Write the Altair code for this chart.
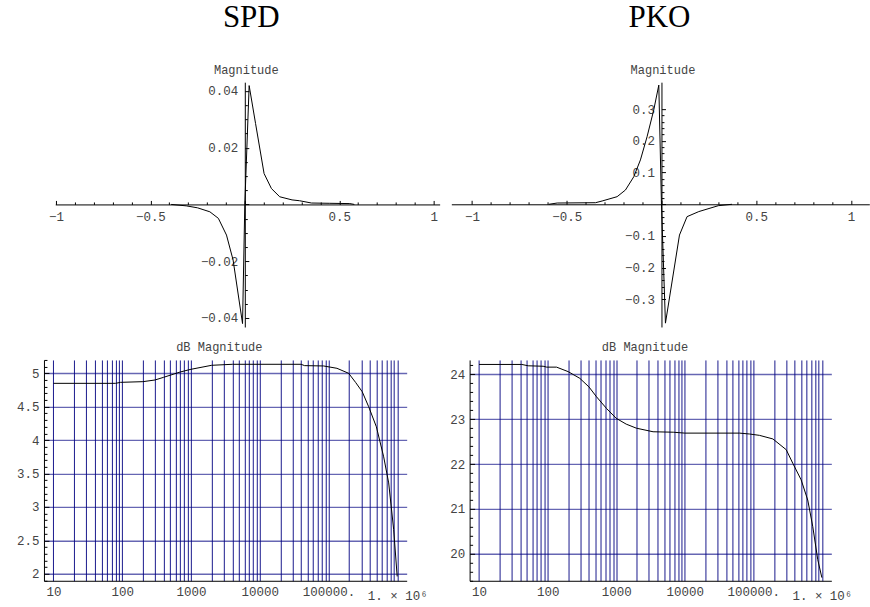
import altair as alt
import pandas as pd

# ---------------- data ----------------
# Top-left: SPD magnitude
spd_x = [-0.39, -0.31, -0.25, -0.185, -0.14, -0.097, -0.062, -0.012, 0.0,
         0.023, 0.057, 0.102, 0.141, 0.185, 0.25, 0.29, 0.353, 0.45, 0.556, 0.58]
spd_y = [0.0, -0.0005, -0.0012, -0.0026, -0.0049, -0.0108, -0.0196, -0.042, 0.0,
         0.0419, 0.0285, 0.0109, 0.0056, 0.0027, 0.0016, 0.0013, 0.0005, 0.0004, 0.0003, 0.0]

# Top-right: PKO magnitude
pko_x = [-0.594, -0.55, -0.348, -0.313, -0.234, -0.19, -0.146, -0.111, -0.076, -0.041,
         -0.014, 0.0, 0.021, 0.095, 0.135, 0.197, 0.30, 0.372]
pko_y = [0.0, 0.004, 0.005, 0.0104, 0.024, 0.045, 0.087, 0.14, 0.213, 0.297,
         0.376, 0.0, -0.375, -0.097, -0.039, -0.023, -0.0044, 0.0]

# Bottom-left: SPD dB magnitude vs frequency
spd_f = [10, 80, 95, 200, 300, 400, 700, 1000, 2000, 4000, 40000, 45000, 85000,
         133000, 197000, 250000, 310000, 385000, 498000, 636000, 752000, 889000, 1000000]
spd_db = [4.85, 4.85, 4.865, 4.875, 4.90, 4.94, 5.02, 5.06, 5.12, 5.135, 5.135, 5.115, 5.11,
          5.075, 5.0, 4.86, 4.725, 4.5, 4.2, 3.75, 3.36, 2.66, 1.96]

# Bottom-right: PKO dB magnitude vs frequency
pko_f = [10, 42, 52, 86, 97, 135, 199, 295, 400, 516, 722, 1000, 1400, 1970, 3450, 6800,
         10000, 63000, 88000, 123000, 193000, 302000, 376000, 498000, 622000, 736000,
         871000, 1000000]
pko_db = [24.22, 24.22, 24.19, 24.18, 24.16, 24.16, 24.06, 23.91, 23.72, 23.5, 23.24, 23.02,
          22.89, 22.8, 22.72, 22.71, 22.69, 22.69, 22.67, 22.64, 22.56, 22.32, 22.02, 21.65,
          21.2, 20.61, 19.87, 19.47]

# tick labels
top_x_labels = [-1, -0.5, 0.5, 1]
spd_y_labels = [-0.04, -0.02, 0.02, 0.04]
pko_y_labels = [-0.3, -0.2, -0.1, 0.1, 0.2, 0.3]
spd_db_labels = [2, 2.5, 3, 3.5, 4, 4.5, 5]
pko_db_labels = [20, 21, 22, 23, 24]
freq_label_values = [10, 100, 1000, 10000, 100000, 1000000]
freq_label_texts = ["10", "100", "1000", "10000", "100000.", "1. \u00d7 10\u2076"]

NAVY = "#000080"
LABEL_COLOR = "#444444"


def steps(lo, hi, step):
    n0 = int(round(lo / step))
    n1 = int(round(hi / step))
    return [round(k * step, 6) for k in range(n0, n1 + 1)]


def major_cond(step, big, small):
    return {"condition": {"test": f"abs(datum.value/{step} - round(datum.value/{step})) < 1e-6",
                          "value": big}, "value": small}


def top_panel(x, y, title_text, title_dx, xdom, xrng, ydom, width, height,
              ylabels, yminor_step, ymajor_step):
    df = pd.DataFrame({"x": x, "y": y})
    xs = alt.Scale(domain=xdom, range=xrng, nice=False, zero=False)
    ys = alt.Scale(domain=ydom, nice=False, zero=False)
    x0 = xrng[0] + (0 - xdom[0]) / (xdom[1] - xdom[0]) * (xrng[1] - xrng[0])
    y0 = height * (ydom[1] - 0) / (ydom[1] - ydom[0])

    x_lab = alt.Axis(orient="bottom", offset=-(height - y0), values=top_x_labels, format="~g",
                     ticks=False, grid=False, domain=True, labelPadding=6, title=None,
                     labelFlush=False, labelOverlap=False)
    y_lab = alt.Axis(orient="left", offset=-x0, values=ylabels, format="~g", ticks=False,
                     grid=False, domain=True, labelPadding=7, title="Magnitude", titleAngle=0,
                     titleX=1, titleY=-9, titleAlign="center", titleBaseline="alphabetic",
                     labelFlush=False, labelOverlap=False)
    x_tk = alt.Axis(orient="top", offset=-y0, values=steps(-1, 1, 0.1), labels=False,
                    domain=False, grid=False, ticks=True, tickSize=major_cond(0.5, 4, 2.5),
                    title=None)
    y_tk = alt.Axis(orient="right", offset=-(width - x0),
                    values=steps(ylabels[0], ylabels[-1], yminor_step), labels=False,
                    domain=False, grid=False, ticks=True,
                    tickSize=major_cond(ymajor_step, 4, 2.5), title=None)

    line = alt.Chart(df).mark_line(color="black", strokeWidth=1).encode(
        x=alt.X("x:Q", scale=xs, axis=x_lab),
        y=alt.Y("y:Q", scale=ys, axis=y_lab),
    )
    tk = alt.Chart(df).mark_point(opacity=0).encode(
        x=alt.X("x:Q", scale=xs, axis=x_tk),
        y=alt.Y("y:Q", scale=ys, axis=y_tk),
    )
    return alt.layer(line, tk, title=alt.TitleParams(
        text=title_text, frame="group", anchor="middle", dx=title_dx, offset=5,
        baseline="alphabetic")).resolve_axis(x="independent", y="independent").properties(
        width=width, height=height)


grid_vals = [d * 10 ** k for k in range(1, 6) for d in range(1, 10)] + [1000000]
label_expr = " : ".join(f"datum.value == {v} ? '{t}'" for v, t in
                        zip(freq_label_values, freq_label_texts)) + " : ''"


def bottom_panel(f, db, ydom, ylabels, yminor_step, ymajor_step, width, height):
    df = pd.DataFrame({"f": f, "db": db})
    xs = alt.Scale(type="log", domain=[7.28, 1.374e6], nice=False)
    ys = alt.Scale(domain=ydom, nice=False, zero=False)
    x_ax = alt.Axis(orient="bottom", values=grid_vals, labelExpr=label_expr, grid=True,
                    gridColor=NAVY, gridWidth=1, gridOpacity=0.9, ticks=False, domain=True,
                    labelPadding={"condition": {"test": "datum.value > 500000", "value": 9},
                                  "value": 5},
                    labelFlush=False, labelOverlap=False, title=None)
    y_ax = alt.Axis(orient="left", values=ylabels, format="~g", grid=True, gridColor=NAVY,
                    gridWidth=1.4, gridOpacity=0.6, ticks=False, domain=True, labelPadding=5,
                    title="dB  Magnitude", titleAngle=0, titleX=175, titleY=-9,
                    titleAlign="center", titleBaseline="alphabetic", labelFlush=False,
                    labelOverlap=False, minExtent=30, maxExtent=30)
    y_tk = alt.Axis(orient="right", offset=-width,
                    values=steps(ydom[0] + 0.05, ydom[1] - 0.05, yminor_step), labels=False,
                    domain=False, grid=False, ticks=True,
                    tickSize=major_cond(ymajor_step, 5, 3), title=None)
    line = alt.Chart(df).mark_line(color="black", strokeWidth=1).encode(
        x=alt.X("f:Q", scale=xs, axis=x_ax),
        y=alt.Y("db:Q", scale=ys, axis=y_ax),
    )
    tk = alt.Chart(df).mark_point(opacity=0).encode(
        y=alt.Y("db:Q", scale=ys, axis=y_tk),
    )
    return alt.layer(line, tk).resolve_axis(y="independent").properties(
        width=width, height=height)


tl = top_panel(spd_x, spd_y, "SPD", 9.5, [-1.0037, 1.0317], [11.3, 396],
               [-0.0432, 0.0431], 396, 245, spd_y_labels, 0.005, 0.02)
tr = top_panel(pko_x, pko_y, "PKO", -10, [-1.1086, 1.0965], [-18.3, 400],
               [-0.3871, 0.3853], 400, 245, pko_y_labels, 0.02, 0.1)
bl = bottom_panel(spd_f, spd_db, [1.895, 5.2], spd_db_labels, 0.1, 0.5, 363, 221)
br = bottom_panel(pko_f, pko_db, [19.4, 24.32], pko_db_labels, 0.2, 1, 362, 221)

chart = alt.concat(
    tl, tr, bl, br, columns=2, spacing={"row": 33, "column": 30}, bounds="flush"
).properties(
    padding={"left": 14, "top": 2, "right": -18.3, "bottom": 0}
).configure_view(stroke=None).configure_axis(
    labelFont="Liberation Mono", labelFontSize=12.5, labelColor=LABEL_COLOR,
    titleFont="Liberation Mono", titleFontSize=12, titleColor=LABEL_COLOR,
    titleFontWeight="normal", domainColor="black", domainWidth=1, tickColor="black",
    tickWidth=1,
).configure_title(font="Liberation Serif", fontSize=31, fontWeight="normal", color="black")

chart.save("out.html", embed_options={"renderer": "svg", "actions": False})
